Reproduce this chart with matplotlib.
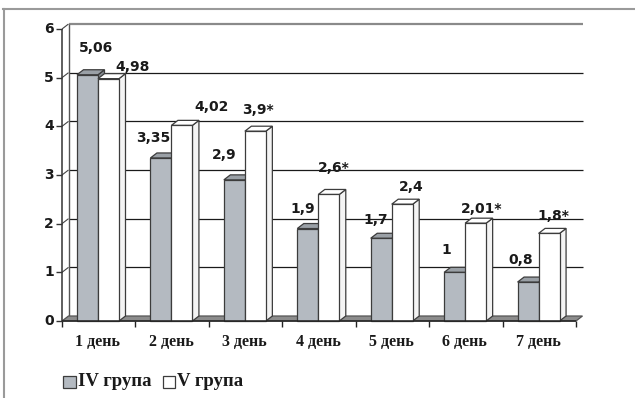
import numpy as np
import matplotlib
matplotlib.use("Agg")
import matplotlib.pyplot as plt
from matplotlib.patches import Polygon, Rectangle

days = ["1 день", "2 день", "3 день", "4 день", "5 день", "6 день", "7 день"]
group4 = [5.06, 3.35, 2.9, 1.9, 1.7, 1.0, 0.8]
group5 = [4.98, 4.02, 3.9, 2.6, 2.4, 2.01, 1.8]
group5_sig = [False, False, True, True, False, True, True]
series_names = ["IV група", "V група"]
yticks = [0, 1, 2, 3, 4, 5, 6]

# label offsets in pixels from the top of each bar
off4 = [(9, 27), (-8, 20), (-10, 25), (-5, 20), (-5, 18), (-8, 22), (-7, 22)]
off5 = [(24, 12), (30, 18), (3, 21), (5, 26), (9, 17), (6, 14), (4, 17)]

W, H = 635, 398
fig = plt.figure(figsize=(W / 100, H / 100), dpi=100)
fig.patch.set_facecolor("white")

# front plane of the plot in pixels
x0, x1, y0, y1 = 62, 576, 321, 29
ax = fig.add_axes([x0 / W, 1 - y0 / H, (x1 - x0) / W, (y0 - y1) / H])
ax.set_xlim(0, len(days))
ax.set_ylim(0, 6)
ax.axis("off")

ux = len(days) / (x1 - x0)
uy = 6 / (y0 - y1)
ddx, ddy = 6.5 * ux, 5 * uy  # depth of the 3d box

edge = "#3c3c3c"

def poly(pts, fc, ec=edge, lw=0.9, z=2):
    ax.add_patch(Polygon(pts, closed=True, facecolor=fc, edgecolor=ec,
                         linewidth=lw, zorder=z, clip_on=False))

def line(xs, ys, c="#222222", lw=0.9, z=1):
    ax.plot(xs, ys, color=c, lw=lw, zorder=z, clip_on=False,
            solid_capstyle="butt")

# back wall, side wall and gridlines
n = len(days)
for v in yticks[1:]:
    col = "#8a8a8a" if v == 6 else "#1a1a1a"
    lw = 1.6 if v == 6 else 0.9
    line([ddx, n + ddx], [v + ddy, v + ddy], c=col, lw=lw)
    line([0, ddx], [v, v + ddy], c="#444444", lw=0.8)
line([ddx, ddx], [ddy, 6 + ddy], c="#555555", lw=1.0)

# floor
poly([(0, 0), (n, 0), (n + ddx, ddy), (ddx, ddy)], "#8c8c8c", ec="#555555", z=1.5)

# front axes
line([0, 0], [0, 6], c="#333333", lw=1.1, z=5)
line([0, n], [0, 0], c="#222222", lw=1.1, z=5)
for v in yticks:
    line([-6 * ux, 0], [v, v], c="#333333", lw=1.0, z=5)
    ax.text(-8 * ux, v, str(v), ha="right", va="center", fontsize=10,
            fontweight="bold", color="#1a1a1a", family="DejaVu Sans")
for i in range(n + 1):
    line([i, i], [0, -6 * uy], c="#222222", lw=1.0, z=5)

def bar3d(xl, w, h, front, top, side):
    poly([(xl + w, 0), (xl + w + ddx, ddy), (xl + w + ddx, h + ddy), (xl + w, h)], side)
    poly([(xl, h), (xl + w, h), (xl + w + ddx, h + ddy), (xl + ddx, h + ddy)], top)
    poly([(xl, 0), (xl + w, 0), (xl + w, h), (xl, h)], front)

bw = 21 * ux
start = 15 * ux
lab_kw = dict(textcoords="offset pixels", ha="center", va="center",
              fontsize=10, fontweight="bold", color="#1a1a1a", family="DejaVu Sans")
for i in range(n):
    g, wv = group4[i], group5[i]
    xg = i + start
    xw = xg + bw
    bar3d(xg, bw, g, "#b4bac1", "#9aa0a6", "#858b91")
    bar3d(xw, bw, wv, "white", "white", "#f4f4f4")
    t4 = f"{g:g}".replace(".", ",")
    t5 = f"{wv:g}".replace(".", ",") + ("*" if group5_sig[i] else "")
    ax.annotate(t4, (xg + bw / 2, g), xytext=off4[i], **lab_kw)
    ax.annotate(t5, (xw + bw / 2, wv), xytext=off5[i], **lab_kw)
    ax.text(i + 0.5 - 1 * ux, -21 * uy, days[i], ha="center", va="center",
            fontsize=11.5, fontweight="bold", family="Liberation Serif", color="#1a1a1a")

# legend
def px(x, y):
    return x / W, 1 - y / H

fig.add_artist(Rectangle(px(63, 388), 12.5 / W, 12.5 / H, transform=fig.transFigure,
                         facecolor="#b4bac1", edgecolor=edge, lw=0.9))
fig.text(*px(78, 382), series_names[0], ha="left", va="center", fontsize=13.5,
         fontweight="bold", family="Liberation Serif", color="#1a1a1a")
fig.add_artist(Rectangle(px(163, 388), 12 / W, 12.5 / H, transform=fig.transFigure,
                         facecolor="white", edgecolor=edge, lw=0.9))
fig.text(*px(177, 382), series_names[1], ha="left", va="center", fontsize=13.5,
         fontweight="bold", family="Liberation Serif", color="#1a1a1a")

# outer frame (top and left edges)
fig.add_artist(plt.Line2D([3 / W, 1], [1 - 8.5 / H, 1 - 8.5 / H], transform=fig.transFigure,
                          color="#9a9a9a", lw=1.5))
fig.add_artist(plt.Line2D([3.5 / W, 3.5 / W], [0, 1 - 8.5 / H], transform=fig.transFigure,
                          color="#9a9a9a", lw=1.5))

fig.savefig("out.png", dpi=100)
